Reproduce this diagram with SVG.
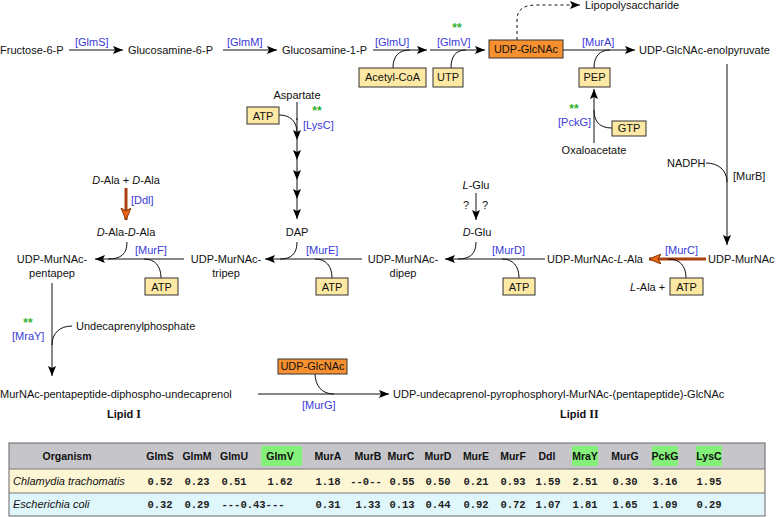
<svg xmlns="http://www.w3.org/2000/svg" width="777" height="517" viewBox="0 0 777 517">
<defs>
<marker id="ah" markerUnits="userSpaceOnUse" markerWidth="12" markerHeight="10" refX="10" refY="4" orient="auto">
<path d="M0,0 L10,4 L0,8 L2,4 Z" fill="#000"/>
</marker>
<marker id="aho" markerUnits="userSpaceOnUse" markerWidth="14" markerHeight="12" refX="12" refY="5" orient="auto">
<path d="M0,0 L12,5 L0,10 L3,5 Z" fill="#e8661a" stroke="#8a3300" stroke-width="1"/>
</marker>
<style>
text{font-family:"Liberation Sans",Arial,sans-serif;font-size:11px;fill:#111}
.enz{fill:#3a3ad8}
.star{fill:#33b033;font-size:12px;font-weight:bold}
.c{text-anchor:middle}
.box{fill:#fde9a4;stroke:#333;stroke-width:1}
.obox{fill:#f7902f;stroke:#333;stroke-width:1}
.ln{fill:none;stroke:#111;stroke-width:1}
.arr{fill:none;stroke:#111;stroke-width:1;marker-end:url(#ah)}
.oarr{fill:none;stroke:#a84010;stroke-width:3;marker-end:url(#aho)}
.hd{font-weight:bold;font-size:10.5px;text-anchor:middle}
.val{font-family:"Liberation Mono","Courier New",monospace;font-weight:bold;font-size:10.5px;text-anchor:middle;fill:#222}
.it{font-style:italic}
.hl{fill:#84f07a}
</style>
</defs>

<g id="connectors">
<line class="arr" x1="69" y1="50" x2="123" y2="50"/>
<line class="arr" x1="223" y1="50" x2="277" y2="50"/>
<line class="arr" x1="373" y1="50" x2="427" y2="50"/>
<line class="arr" x1="430" y1="50" x2="485" y2="50"/>
<line class="arr" x1="563" y1="50" x2="635" y2="50"/>
<path class="ln" d="M393,68 C393,56 399,50 410,50"/>
<path class="ln" d="M451,68 C451,56 456,50 466,50"/>
<path class="ln" d="M594,68 C594,56 600,50 610,50"/>
<path class="arr" stroke-dasharray="3,3" d="M517,40 L517,20 C517,9 524,5 537,5 L580,5"/>
<line class="arr" x1="594" y1="143" x2="594" y2="89"/>
<path class="ln" d="M612,128 C600,128 594,122 594,110"/>
<line class="arr" x1="727" y1="64" x2="727" y2="245"/>
<path class="ln" d="M706,163 C718,163 727,170 727,182"/>
<line class="oarr" x1="706" y1="259" x2="649" y2="259"/>
<path class="ln" d="M686,278 C686,266 680,259 668,259"/>
<line class="arr" x1="545" y1="259" x2="445" y2="259"/>
<path class="ln" d="M476,242 C476,254 470,259 458,259"/>
<path class="ln" d="M519,278 C519,266 513,259 502,259"/>
<line class="arr" x1="476" y1="193" x2="476" y2="220"/>
<line class="arr" x1="362" y1="259" x2="265" y2="259"/>
<path class="ln" d="M297,242 C297,254 291,259 280,259"/>
<path class="ln" d="M332,278 C332,266 326,259 315,259"/>
<line class="ln" x1="297" y1="102" x2="297" y2="120"/>
<line class="arr" x1="297" y1="118" x2="297" y2="140"/>
<line class="arr" x1="297" y1="140" x2="297" y2="160"/>
<line class="arr" x1="297" y1="160" x2="297" y2="180"/>
<line class="arr" x1="297" y1="180" x2="297" y2="199"/>
<line class="arr" x1="297" y1="199" x2="297" y2="219"/>
<path class="ln" d="M279,115 C290,115 297,121 297,133"/>
<line class="arr" x1="184" y1="259" x2="95" y2="259"/>
<path class="ln" d="M127,242 C127,254 121,259 108,259"/>
<path class="ln" d="M161,278 C161,266 155,259 144,259"/>
<line class="oarr" x1="126" y1="188" x2="126" y2="220"/>
<line class="arr" x1="52" y1="283" x2="52" y2="376"/>
<path class="ln" d="M72,326 C60,326 52,333 52,345"/>
<line class="arr" x1="258" y1="394" x2="389" y2="394"/>
<path class="ln" d="M315,373 C315,386 322,394 334,394"/>
</g>

<g id="fructose6p"><text x="0" y="54">Fructose-6-P</text></g>
<g id="glms"><text class="enz" x="75" y="46">[GlmS]</text></g>
<g id="glucosamine6p"><text x="128" y="54">Glucosamine-6-P</text></g>
<g id="glmm"><text class="enz" x="227" y="46">[GlmM]</text></g>
<g id="glucosamine1p"><text x="282" y="54">Glucosamine-1-P</text></g>
<g id="glmu"><text class="enz" x="375" y="46">[GlmU]</text></g>
<g id="acetylcoa"><rect class="box" x="359" y="68" width="67" height="19"/><text class="c" x="392.5" y="81">Acetyl-CoA</text></g>
<g id="glmv"><text class="star c" x="457" y="32">**</text><text class="enz" x="437" y="46">[GlmV]</text></g>
<g id="utp"><rect class="box" x="433" y="68" width="30" height="19"/><text class="c" x="448" y="81">UTP</text></g>
<g id="udpglcnac"><rect class="obox" x="489" y="40" width="74" height="18"/><text class="c" x="526" y="53">UDP-GlcNAc</text></g>
<g id="lps"><text x="585" y="9">Lipopolysaccharide</text></g>
<g id="mura"><text class="enz" x="582" y="46">[MurA]</text></g>
<g id="enolpyruvate"><text x="639" y="54">UDP-GlcNAc-enolpyruvate</text></g>
<g id="pep"><rect class="box" x="579" y="68" width="31" height="19"/><text class="c" x="594.5" y="81">PEP</text></g>
<g id="pckg"><text class="star c" x="574" y="113">**</text><text class="enz" x="558" y="126">[PckG]</text></g>
<g id="gtp"><rect class="box" x="612" y="121" width="34" height="15"/><text class="c" x="629" y="132">GTP</text></g>
<g id="oxaloacetate"><text class="c" x="594" y="154">Oxaloacetate</text></g>
<g id="nadph"><text x="667" y="167">NADPH</text></g>
<g id="murb"><text x="733" y="180">[MurB]</text></g>
<g id="udpmurnac"><text x="708" y="263">UDP-MurNAc</text></g>
<g id="murc"><text class="enz" x="665" y="254">[MurC]</text></g>
<g id="atp-c"><text x="630" y="291"><tspan class="it">L</tspan>-Ala +</text><rect class="box" x="670" y="278" width="33" height="17"/><text class="c" x="686.5" y="291">ATP</text></g>
<g id="udpmurnac-lala"><text x="547" y="263">UDP-MurNAc-<tspan class="it">L</tspan>-Ala</text></g>
<g id="murd"><text class="enz" x="492" y="254">[MurD]</text></g>
<g id="atp-d"><rect class="box" x="503" y="278" width="32" height="17"/><text class="c" x="519" y="291">ATP</text></g>
<g id="lglu"><text class="c" x="476" y="189"><tspan class="it">L</tspan>-Glu</text><text x="466" y="209" class="c">?</text><text x="485" y="209" class="c">?</text></g>
<g id="dglu"><text class="c" x="477" y="236"><tspan class="it">D</tspan>-Glu</text></g>
<g id="dipep"><text class="c" x="403" y="263">UDP-MurNAc-</text><text class="c" x="403" y="277">dipep</text></g>
<g id="mure"><text class="enz" x="306" y="254">[MurE]</text></g>
<g id="atp-e"><rect class="box" x="316" y="278" width="32" height="17"/><text class="c" x="332" y="291">ATP</text></g>
<g id="aspartate"><text class="c" x="297" y="99">Aspartate</text></g>
<g id="lysc"><text class="star c" x="317" y="115">**</text><text class="enz" x="303" y="129">[LysC]</text></g>
<g id="atp-lysc"><rect class="box" x="247" y="107" width="32" height="17"/><text class="c" x="263" y="120">ATP</text></g>
<g id="dap"><text class="c" x="297" y="236">DAP</text></g>
<g id="tripep"><text class="c" x="226" y="263">UDP-MurNAc-</text><text class="c" x="226" y="277">tripep</text></g>
<g id="murf"><text class="enz" x="135" y="254">[MurF]</text></g>
<g id="atp-f"><rect class="box" x="145" y="278" width="33" height="17"/><text class="c" x="161.5" y="291">ATP</text></g>
<g id="dala"><text class="c" x="126" y="184"><tspan class="it">D</tspan>-Ala + <tspan class="it">D</tspan>-Ala</text></g>
<g id="ddl"><text class="enz" x="131" y="204">[Ddl]</text></g>
<g id="daladala"><text class="c" x="126" y="236"><tspan class="it">D</tspan>-Ala-<tspan class="it">D</tspan>-Ala</text></g>
<g id="pentapep"><text class="c" x="52" y="263">UDP-MurNAc-</text><text class="c" x="52" y="277">pentapep</text></g>
<g id="mray"><text class="star c" x="28" y="327">**</text><text class="enz" x="12" y="340">[MraY]</text></g>
<g id="undecaprenylphosphate"><text x="76" y="330">Undecaprenylphosphate</text></g>
<g id="lipid1"><text x="0" y="398">MurNAc-pentapeptide-diphospho-undecaprenol</text><text x="107" y="418" font-weight="bold">Lipid <tspan font-family="Liberation Serif,serif" font-size="12">I</tspan></text></g>
<g id="udpglcnac2"><rect class="obox" x="278" y="359" width="69" height="15"/><text class="c" x="312.5" y="370">UDP-GlcNAc</text></g>
<g id="murg"><text class="enz" x="302" y="409">[MurG]</text></g>
<g id="lipid2"><text x="393" y="398">UDP-undecaprenol-pyrophosphoryl-MurNAc-(pentapeptide)-GlcNAc</text><text x="560" y="418" font-weight="bold">Lipid <tspan font-family="Liberation Serif,serif" font-size="12">II</tspan></text></g>

<g id="table">
<rect x="9" y="443" width="756" height="26" fill="#c6c6ca"/>
<rect x="9" y="469" width="756" height="24" fill="#fdf6d4"/>
<rect x="9" y="493" width="756" height="23" fill="#dff6fb"/>
<rect class="hl" x="261" y="446" width="41" height="20"/>
<rect class="hl" x="572" y="446" width="26" height="20"/>
<rect class="hl" x="652" y="446" width="26" height="20"/>
<rect class="hl" x="696" y="446" width="26" height="20"/>
<rect x="9" y="443" width="756" height="73" fill="none" stroke="#666" stroke-width="1"/>
<line x1="9" y1="469" x2="765" y2="469" stroke="#777"/>
<line x1="9" y1="493" x2="765" y2="493" stroke="#777"/>
<text class="hd" x="67" y="460">Organism</text>
<text class="hd" x="160" y="460">GlmS</text>
<text class="hd" x="197" y="460">GlmM</text>
<text class="hd" x="234" y="460">GlmU</text>
<text class="hd" x="280" y="460">GlmV</text>
<text class="hd" x="328" y="460">MurA</text>
<text class="hd" x="368" y="460">MurB</text>
<text class="hd" x="401" y="460">MurC</text>
<text class="hd" x="438" y="460">MurD</text>
<text class="hd" x="476" y="460">MurE</text>
<text class="hd" x="513" y="460">MurF</text>
<text class="hd" x="547" y="460">Ddl</text>
<text class="hd" x="585" y="460">MraY</text>
<text class="hd" x="625" y="460">MurG</text>
<text class="hd" x="665" y="460">PckG</text>
<text class="hd" x="709" y="460">LysC</text>
<text class="it" x="13" y="485">Chlamydia trachomatis</text>
<text class="val" x="160" y="485">0.52</text>
<text class="val" x="197" y="485">0.23</text>
<text class="val" x="234" y="485">0.51</text>
<text class="val" x="280" y="485">1.62</text>
<text class="val" x="328" y="485">1.18</text>
<text class="val" x="366" y="485">--0--</text>
<text class="val" x="402" y="485">0.55</text>
<text class="val" x="438" y="485">0.50</text>
<text class="val" x="476" y="485">0.21</text>
<text class="val" x="513" y="485">0.93</text>
<text class="val" x="548" y="485">1.59</text>
<text class="val" x="585" y="485">2.51</text>
<text class="val" x="625" y="485">0.30</text>
<text class="val" x="665" y="485">3.16</text>
<text class="val" x="709" y="485">1.95</text>
<text class="it" x="13" y="508">Escherichia coli</text>
<text class="val" x="160" y="508">0.32</text>
<text class="val" x="197" y="508">0.29</text>
<text class="val" x="253" y="508">---0.43---</text>
<text class="val" x="328" y="508">0.31</text>
<text class="val" x="368" y="508">1.33</text>
<text class="val" x="402" y="508">0.13</text>
<text class="val" x="438" y="508">0.44</text>
<text class="val" x="476" y="508">0.92</text>
<text class="val" x="513" y="508">0.72</text>
<text class="val" x="548" y="508">1.07</text>
<text class="val" x="585" y="508">1.81</text>
<text class="val" x="625" y="508">1.65</text>
<text class="val" x="665" y="508">1.09</text>
<text class="val" x="709" y="508">0.29</text>
</g>
</svg>
